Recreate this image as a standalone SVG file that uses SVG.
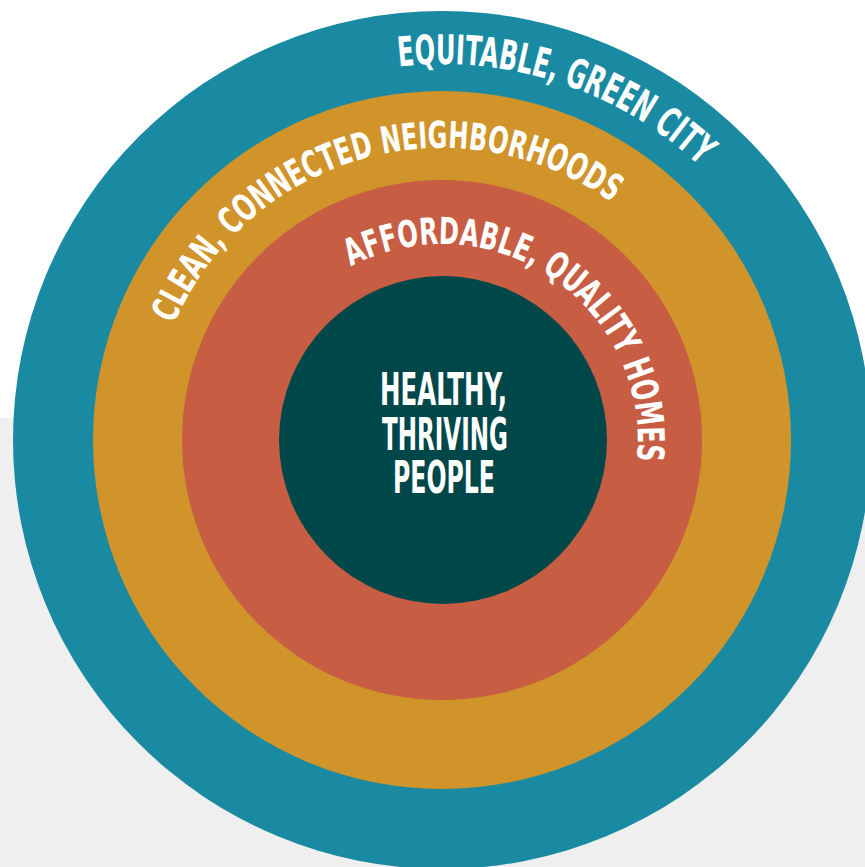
<svg xmlns="http://www.w3.org/2000/svg" xmlns:xlink="http://www.w3.org/1999/xlink" width="865" height="867" viewBox="0 0 865 867">
  <style>
    .lbl { fill: #ffffff; font-family: "Liberation Sans Narrow", "DejaVu Sans Condensed", "Liberation Sans", sans-serif; font-weight: bold; font-stretch: condensed; }
  </style>
  <defs>
    <path id="arcOuter" d="M 398.8 66.5 A 376 376 0 0 1 767.6 252" fill="none"/>
    <path id="arcMiddle" d="M 174 324 A 292 292 0 0 1 694.9 294" fill="none"/>
    <path id="arcInner" d="M 350.9 266.5 A 196 196 0 0 1 592.1 566" fill="none"/>
  </defs>
  <rect x="0" y="0" width="865" height="867" fill="#ffffff"/>
  <rect x="0" y="418" width="865" height="449" fill="#efefef"/>
  <g id="ring-city">
    <circle cx="442" cy="440" r="429" fill="#1a8aa2"/>
    <text class="lbl" font-size="41"><textPath xlink:href="#arcOuter" href="#arcOuter" textLength="327" lengthAdjust="spacingAndGlyphs">EQUITABLE, GREEN CITY</textPath></text>
  </g>
  <g id="ring-neighborhoods">
    <circle cx="442" cy="440" r="349" fill="#d0942a"/>
    <text class="lbl" font-size="37"><textPath xlink:href="#arcMiddle" href="#arcMiddle" textLength="521" lengthAdjust="spacingAndGlyphs">CLEAN, CONNECTED NEIGHBORHOODS</textPath></text>
  </g>
  <g id="ring-homes">
    <circle cx="442" cy="440" r="260" fill="#c75e44"/>
    <text class="lbl" font-size="37"><textPath xlink:href="#arcInner" href="#arcInner" textLength="423" lengthAdjust="spacingAndGlyphs">AFFORDABLE, QUALITY HOMES</textPath></text>
  </g>
  <g id="core-people">
    <circle cx="443" cy="440" r="164" fill="#00474a"/>
    <text class="lbl" font-size="45" x="380" y="405" textLength="127" lengthAdjust="spacingAndGlyphs">HEALTHY,</text>
    <text class="lbl" font-size="45" x="382" y="450" textLength="126" lengthAdjust="spacingAndGlyphs">THRIVING</text>
    <text class="lbl" font-size="45" x="393" y="493" textLength="102" lengthAdjust="spacingAndGlyphs">PEOPLE</text>
  </g>
</svg>
